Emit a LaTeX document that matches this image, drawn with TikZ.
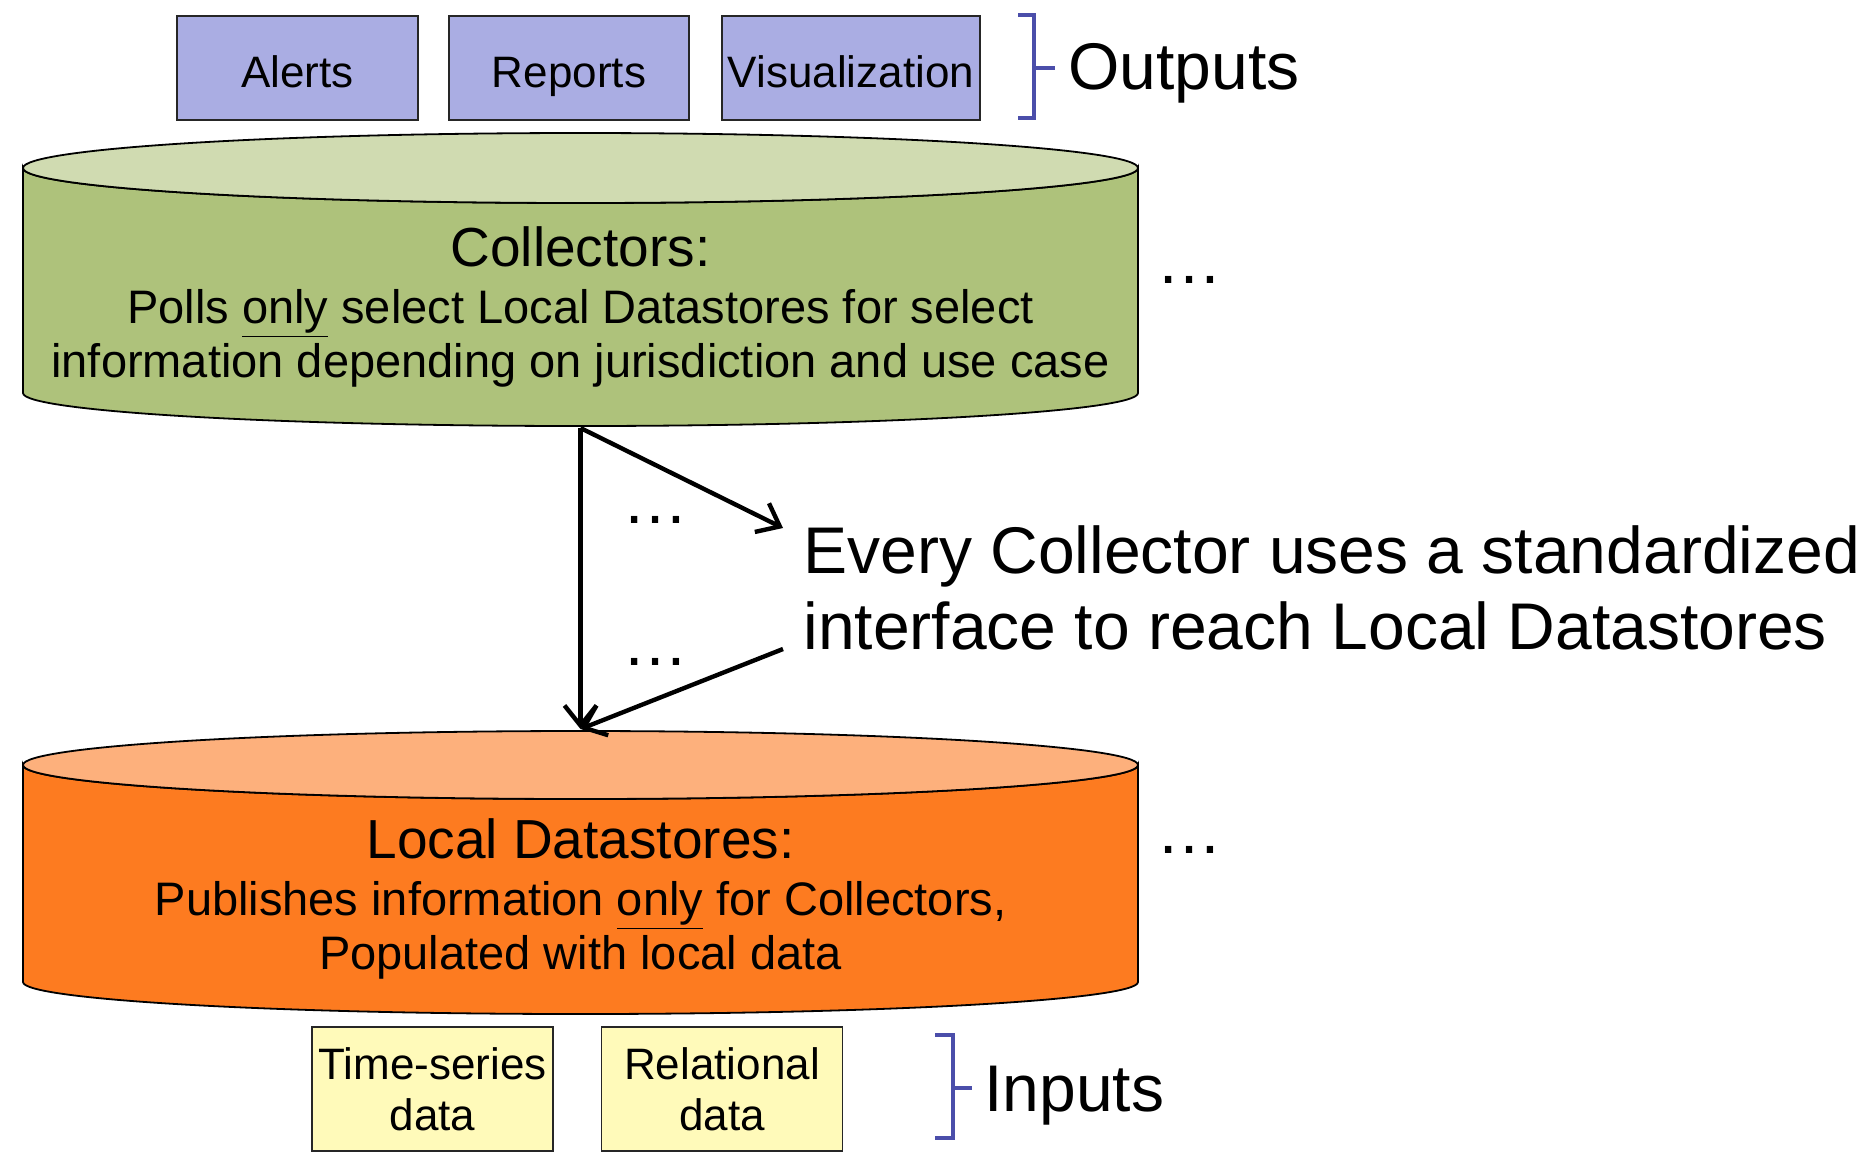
\documentclass[tikz,border=0pt]{standalone}
\usepackage{fontspec}
\setmainfont{Liberation Sans}
\usetikzlibrary{arrows.meta}
\definecolor{lavender}{RGB}{170,173,227}
\definecolor{sage}{RGB}{174,194,123}
\definecolor{sagetop}{RGB}{208,219,177}
\definecolor{tangerine}{RGB}{253,123,32}
\definecolor{tangerinetop}{RGB}{253,176,124}
\definecolor{cream}{RGB}{255,250,186}
\definecolor{braceblue}{RGB}{75,78,170}

\begin{document}
\begin{tikzpicture}
	[x=0.5pt,y=-0.5pt,
	outbox/.style={draw=black!85,line width=0.7pt,fill=lavender,minimum height=52pt,inner sep=0pt,text height=23pt,text depth=4pt,font=\fontsize{22}{25.5}\selectfont},
	inbox/.style={draw=black!85,line width=0.7pt,fill=cream,minimum width=120.5pt,minimum height=62pt,inner sep=0pt,align=center,font=\fontsize{22}{25.5}\selectfont},
	drum/.style={draw=black,line width=0.9pt},
	drumtext/.style={align=center,inner sep=0pt,font=\fontsize{23.5}{27}\selectfont},
	big/.style={inner sep=0pt,font=\fontsize{33}{38}\selectfont},
	link/.style={draw,line width=2.2pt,-{Straight Barb[length=10pt,width=16pt,line width=2.2pt]}},
	brace/.style={draw=braceblue,line width=2pt}]
	\useasboundingbox (0,0) rectangle (1868,1174);
	% outputs
	\node[outbox,minimum width=120.5pt] (alerts) at (297.5,68) {Alerts};
	\node[outbox,minimum width=120pt] (reports) at (569,68) {Reports};
	\node[outbox,minimum width=129pt] (vis) at (851,68) {Visualization};
	\draw[brace] (1018,15) -- (1034,15) -- (1034,118) -- (1018,118) (1034,68) -- (1055,68);
	\node[big,anchor=west] (outlbl) at (1068,73) {Outputs};
	% collectors
	\filldraw[drum,fill=sage] (23,168) -- (23,393) arc (180:0:557.5 and 33) -- (1138,168) arc (0:180:557.5 and 35) -- cycle;
	\filldraw[drum,fill=sagetop] (580.5,168) ellipse (557.5 and 35);
	\node[drumtext] (col) at (580.5,307) {{\fontsize{27.5}{30}\selectfont Collectors:}\\[1.5pt]
		Polls \underline{only} select Local Datastores for select\\
		information depending on jurisdiction and use case};
	\node[big] (coldots) at (1189,280) {\dots};
	% local datastores
	\filldraw[drum,fill=tangerine] (23,765) -- (23,982) arc (180:0:557.5 and 32) -- (1138,765) arc (0:180:557.5 and 34) -- cycle;
	\filldraw[drum,fill=tangerinetop] (580.5,765) ellipse (557.5 and 34);
	\node[drumtext] (lds) at (580.5,899) {{\fontsize{27.5}{30}\selectfont Local Datastores:}\\[1.5pt]
		Publishes information \underline{only} for Collectors,\\
		Populated with local data};
	\node[big] (ldsdots) at (1189,850) {\dots};
	% inputs
	\node[inbox] (ts) at (432.5,1089) {Time-series\\data};
	\node[inbox] (rel) at (722,1089) {Relational\\data};
	\draw[brace] (935,1035) -- (953,1035) -- (953,1138) -- (935,1138) (953,1088) -- (972,1088);
	\node[big,anchor=west] (inlbl) at (984,1096) {Inputs};
	% interface
	\node[big,anchor=west,align=left] (iface) at (803,588) {Every Collector uses a standardized\\interface to reach Local Datastores};
	\coordinate (colbot) at (580.5,428);
	\coordinate (dstop) at (580.5,729);
	\coordinate (ifin) at (783,528);
	\coordinate (ifout) at (783,649);
	\draw[link] (colbot) -- (dstop);
	\draw[link] (colbot) -- (ifin);
	\draw[link] (ifout) -- (dstop);
	\node[big] (topdots) at (655,520) {\dots};
	\node[big] (lowdots) at (655,662) {\dots};
\end{tikzpicture}
\end{document}
